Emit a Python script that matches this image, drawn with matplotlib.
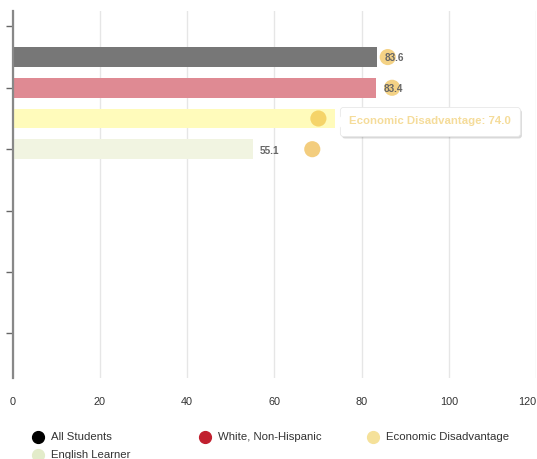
import numpy as np
import matplotlib
matplotlib.use("Agg")
import matplotlib.pyplot as plt
import matplotlib.transforms as mtransforms
from matplotlib.patches import FancyBboxPatch, Polygon
from matplotlib.lines import Line2D

plt.rcParams['font.family'] = ['Liberation Sans', 'DejaVu Sans']

# data
groups = ["All Students", "White, Non-Hispanic", "Economic Disadvantage", "English Learner"]
bar_values = [83.6, 83.4, 74.0, 55.1]
dot_values = [86.0, 87.0, 70.1, 68.7]
bar_colors = ["#777777", "#df8a93", "#fffbbb", "#f1f4e1"]
legend_colors = ["#000000", "#c1202f", "#f5e19a", "#e3ecca"]
dot_colors = ["#f3cd78", "#f3cd78", "#f4d060", "#f2c870"]
x_ticks = [0, 20, 40, 60, 80, 100, 120]
y_ticks = [-1, 1, 3, 5, 7, 9]
hover = 2  # index of the bar with the tooltip

fig = plt.figure(figsize=(5.37, 4.59), dpi=100)
ax = fig.add_axes([12.7 / 537, 1 - 378 / 459, (536 - 12.7) / 537, (378 - 11) / 459])

pos = np.arange(len(groups))
ax.barh(pos, bar_values, height=0.65, color=bar_colors, zorder=2)
ax.scatter(dot_values, pos, s=135, color=dot_colors, alpha=0.9, zorder=3, linewidths=0)

# data labels (the hovered one sits under the tooltip)
for i, v in enumerate(bar_values):
    if i == hover:
        continue
    ax.annotate(f"{v:.1f}", (v, i), xytext=(5, -1), textcoords="offset points",
                ha="left", va="center", fontsize=7.2, fontweight="bold", color="#666666", zorder=4)

ax.set_xlim(0, 120)
ax.set_ylim(10.45, -1.5)
ax.set_xticks(x_ticks)
ax.set_yticks(y_ticks)
ax.set_yticklabels([])
ax.tick_params(axis="y", length=5, width=1, color="#666666")
ax.tick_params(axis="x", length=0, pad=14, labelsize=7.8, labelcolor="#333333")
ax.get_xticklabels()[-1].set_horizontalalignment("right")
ax.grid(axis="x", color="#e6e6e6", linewidth=1, zorder=0)
for s in ["top", "right", "bottom"]:
    ax.spines[s].set_visible(False)
ax.spines["left"].set_color("#888888")
ax.spines["left"].set_linewidth(1.6)
ax.spines["left"].set_zorder(5)

# tooltip anchored at the hovered bar end
anchor = mtransforms.ScaledTranslation(bar_values[hover], hover, ax.transData)
tr = fig.dpi_scale_trans + anchor
px = 1 / 100
w, h, gap = 180 * px, 29 * px, 5 * px
yc = -3.5 * px
shadow = FancyBboxPatch((gap + 1.5 * px, yc - h / 2 - 2 * px), w, h,
                        boxstyle="round,pad=0,rounding_size=0.03", transform=tr,
                        facecolor="#000000", alpha=0.15, edgecolor="none", zorder=6)
box = FancyBboxPatch((gap, yc - h / 2), w, h, boxstyle="round,pad=0,rounding_size=0.03",
                     transform=tr, facecolor="white", edgecolor="#e8e8e8",
                     linewidth=0.6, zorder=7)
arrow = Polygon([(0, yc), (gap + 1 * px, yc + 6 * px), (gap + 1 * px, yc - 6 * px)], closed=True,
                transform=tr, facecolor="white", edgecolor="none", zorder=8)
for p in (shadow, box, arrow):
    ax.add_artist(p)
    p.set_clip_on(False)
ax.text(gap + w / 2, yc + 1 * px, f"{groups[hover]}: {bar_values[hover]:.1f}", transform=tr,
        ha="center", va="center", fontsize=8.2, fontweight="bold", color="#f5dc9a", zorder=9)

# legend
leg_x = [37.7, 204.8, 372.6, 37.7]
leg_y = [436.5, 436.5, 436.5, 455]
for name, c, lx, ly in zip(groups, legend_colors, leg_x, leg_y):
    fig.add_artist(Line2D([lx / 537], [1 - ly / 459], marker="o", markersize=8.5,
                          color=c, linestyle="none", transform=fig.transFigure))
    fig.text((lx + 13.5) / 537, 1 - ly / 459, name, ha="left", va="center",
             fontsize=8.2, color="#333333")

fig.savefig("out.png", dpi=100)
